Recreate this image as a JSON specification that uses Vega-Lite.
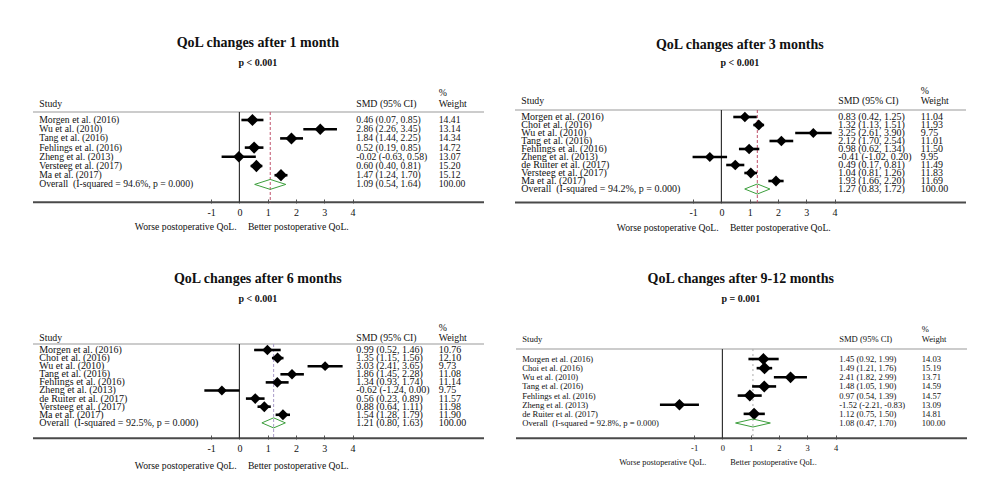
{
  "$schema": "https://vega.github.io/schema/vega-lite/v6.json",
  "background": "white",
  "padding": {"left": 32, "top": 30, "right": 5, "bottom": 5},
  "config": {
    "view": {"stroke": null},
    "text": {"font": "Liberation Serif", "color": "#111111"}
  },
  "datasets": {
    "m1": [
      {"row": 1, "kind": "study", "study": "Morgen et al. (2016)", "est": 0.46, "lo": 0.07, "hi": 0.85, "smd": "0.46 (0.07, 0.85)", "weight": 14.41},
      {"row": 2, "kind": "study", "study": "Wu et al. (2010)", "est": 2.86, "lo": 2.26, "hi": 3.45, "smd": "2.86 (2.26, 3.45)", "weight": 13.14},
      {"row": 3, "kind": "study", "study": "Tang et al. (2016)", "est": 1.84, "lo": 1.44, "hi": 2.25, "smd": "1.84 (1.44, 2.25)", "weight": 14.34},
      {"row": 4, "kind": "study", "study": "Fehlings et al. (2016)", "est": 0.52, "lo": 0.19, "hi": 0.85, "smd": "0.52 (0.19, 0.85)", "weight": 14.72},
      {"row": 5, "kind": "study", "study": "Zheng et al. (2013)", "est": -0.02, "lo": -0.63, "hi": 0.58, "smd": "-0.02 (-0.63, 0.58)", "weight": 13.07},
      {"row": 6, "kind": "study", "study": "Versteeg et al. (2017)", "est": 0.60, "lo": 0.40, "hi": 0.81, "smd": "0.60 (0.40, 0.81)", "weight": 15.20},
      {"row": 7, "kind": "study", "study": "Ma et al. (2017)", "est": 1.47, "lo": 1.24, "hi": 1.70, "smd": "1.47 (1.24, 1.70)", "weight": 15.12},
      {"row": 8, "kind": "overall", "study": "Overall\u00a0 (I-squared = 94.6%, p = 0.000)", "est": 1.09, "lo": 0.54, "hi": 1.64, "smd": "1.09 (0.54, 1.64)", "weight": 100.00}
    ],
    "m3": [
      {"row": 1, "kind": "study", "study": "Morgen et al. (2016)", "est": 0.83, "lo": 0.42, "hi": 1.25, "smd": "0.83 (0.42, 1.25)", "weight": 11.04},
      {"row": 2, "kind": "study", "study": "Choi et al. (2016)", "est": 1.32, "lo": 1.13, "hi": 1.51, "smd": "1.32 (1.13, 1.51)", "weight": 11.93},
      {"row": 3, "kind": "study", "study": "Wu et al. (2010)", "est": 3.25, "lo": 2.61, "hi": 3.90, "smd": "3.25 (2.61, 3.90)", "weight": 9.75},
      {"row": 4, "kind": "study", "study": "Tang et al. (2016)", "est": 2.12, "lo": 1.70, "hi": 2.54, "smd": "2.12 (1.70, 2.54)", "weight": 11.01},
      {"row": 5, "kind": "study", "study": "Fehlings et al. (2016)", "est": 0.98, "lo": 0.62, "hi": 1.34, "smd": "0.98 (0.62, 1.34)", "weight": 11.50},
      {"row": 6, "kind": "study", "study": "Zheng et al. (2013)", "est": -0.41, "lo": -1.02, "hi": 0.20, "smd": "-0.41 (-1.02, 0.20)", "weight": 9.95},
      {"row": 7, "kind": "study", "study": "de Ruiter et al. (2017)", "est": 0.49, "lo": 0.17, "hi": 0.81, "smd": "0.49 (0.17, 0.81)", "weight": 11.49},
      {"row": 8, "kind": "study", "study": "Versteeg et al. (2017)", "est": 1.04, "lo": 0.81, "hi": 1.26, "smd": "1.04 (0.81, 1.26)", "weight": 11.83},
      {"row": 9, "kind": "study", "study": "Ma et al. (2017)", "est": 1.93, "lo": 1.66, "hi": 2.20, "smd": "1.93 (1.66, 2.20)", "weight": 11.69},
      {"row": 10, "kind": "overall", "study": "Overall\u00a0 (I-squared = 94.2%, p = 0.000)", "est": 1.27, "lo": 0.83, "hi": 1.72, "smd": "1.27 (0.83, 1.72)", "weight": 100.00}
    ],
    "m6": [
      {"row": 1, "kind": "study", "study": "Morgen et al. (2016)", "est": 0.99, "lo": 0.52, "hi": 1.46, "smd": "0.99 (0.52, 1.46)", "weight": 10.76},
      {"row": 2, "kind": "study", "study": "Choi et al. (2016)", "est": 1.35, "lo": 1.15, "hi": 1.56, "smd": "1.35 (1.15, 1.56)", "weight": 12.10},
      {"row": 3, "kind": "study", "study": "Wu et al. (2010)", "est": 3.03, "lo": 2.41, "hi": 3.65, "smd": "3.03 (2.41, 3.65)", "weight": 9.73},
      {"row": 4, "kind": "study", "study": "Tang et al. (2016)", "est": 1.86, "lo": 1.45, "hi": 2.28, "smd": "1.86 (1.45, 2.28)", "weight": 11.08},
      {"row": 5, "kind": "study", "study": "Fehlings et al. (2016)", "est": 1.34, "lo": 0.93, "hi": 1.74, "smd": "1.34 (0.93, 1.74)", "weight": 11.14},
      {"row": 6, "kind": "study", "study": "Zheng et al. (2013)", "est": -0.62, "lo": -1.24, "hi": 0.00, "smd": "-0.62 (-1.24, 0.00)", "weight": 9.75},
      {"row": 7, "kind": "study", "study": "de Ruiter et al. (2017)", "est": 0.56, "lo": 0.23, "hi": 0.89, "smd": "0.56 (0.23, 0.89)", "weight": 11.57},
      {"row": 8, "kind": "study", "study": "Versteeg et al. (2017)", "est": 0.88, "lo": 0.64, "hi": 1.11, "smd": "0.88 (0.64, 1.11)", "weight": 11.98},
      {"row": 9, "kind": "study", "study": "Ma et al. (2017)", "est": 1.54, "lo": 1.28, "hi": 1.79, "smd": "1.54 (1.28, 1.79)", "weight": 11.90},
      {"row": 10, "kind": "overall", "study": "Overall\u00a0 (I-squared = 92.5%, p = 0.000)", "est": 1.21, "lo": 0.80, "hi": 1.63, "smd": "1.21 (0.80, 1.63)", "weight": 100.00}
    ],
    "m12": [
      {"row": 1, "kind": "study", "study": "Morgen et al. (2016)", "est": 1.45, "lo": 0.92, "hi": 1.99, "smd": "1.45 (0.92, 1.99)", "weight": 14.03},
      {"row": 2, "kind": "study", "study": "Choi et al. (2016)", "est": 1.49, "lo": 1.21, "hi": 1.76, "smd": "1.49 (1.21, 1.76)", "weight": 15.19},
      {"row": 3, "kind": "study", "study": "Wu et al. (2010)", "est": 2.41, "lo": 1.82, "hi": 2.99, "smd": "2.41 (1.82, 2.99)", "weight": 13.71},
      {"row": 4, "kind": "study", "study": "Tang et al. (2016)", "est": 1.48, "lo": 1.05, "hi": 1.90, "smd": "1.48 (1.05, 1.90)", "weight": 14.59},
      {"row": 5, "kind": "study", "study": "Fehlings et al. (2016)", "est": 0.97, "lo": 0.54, "hi": 1.39, "smd": "0.97 (0.54, 1.39)", "weight": 14.57},
      {"row": 6, "kind": "study", "study": "Zheng et al. (2013)", "est": -1.52, "lo": -2.21, "hi": -0.83, "smd": "-1.52 (-2.21, -0.83)", "weight": 13.09},
      {"row": 7, "kind": "study", "study": "de Ruiter et al. (2017)", "est": 1.12, "lo": 0.75, "hi": 1.50, "smd": "1.12 (0.75, 1.50)", "weight": 14.81},
      {"row": 8, "kind": "overall", "study": "Overall\u00a0 (I-squared = 92.8%, p = 0.000)", "est": 1.08, "lo": 0.47, "hi": 1.70, "smd": "1.08 (0.47, 1.70)", "weight": 100.00}
    ]
  },
  "spacing": 33,
  "vconcat": [
    {
      "spacing": 29,
      "hconcat": [
        {
          "width": 451, "height": 173,
          "data": {"name": "m1"},
          "layer": [
            {"data": {"values": [{}]}, "mark": {"type": "rule", "color": "#bbbbbb", "strokeWidth": 1.6}, "encoding": {"x": {"datum": -7.3}, "x2": {"datum": 8.65}, "y": {"datum": 0.13, "axis": null}}},
            {"data": {"values": [{}]}, "mark": {"type": "rule", "color": "#4a4a4a", "strokeWidth": 2}, "encoding": {"x": {"datum": -7.3}, "x2": {"datum": 8.65}, "y": {"datum": 9.95, "axis": null}}},
            {"data": {"values": [{}]}, "mark": {"type": "rule", "color": "#333333", "strokeWidth": 1.2}, "encoding": {"x": {"datum": 0}, "y": {"datum": 0.13, "axis": null}, "y2": {"datum": 9.95}}},
            {"transform": [{"filter": "datum.kind == 'overall'"}], "mark": {"type": "rule", "color": "#c0506a", "strokeWidth": 1, "strokeDash": [3, 2]}, "encoding": {"x": {"field": "est", "type": "quantitative"}, "y": {"datum": 0.13, "axis": null}, "y2": {"datum": 9.95}}},
            {"transform": [{"filter": "datum.kind == 'study'"}], "mark": {"type": "rule", "color": "black", "strokeWidth": 2.6},
              "encoding": {
                "x": {"field": "lo", "type": "quantitative", "scale": {"domain": [-7.3, 8.65], "nice": false, "zero": false},
                  "axis": {"values": [-1, 0, 1, 2, 3, 4], "title": null, "grid": false, "domain": false, "tickColor": "#555555", "tickWidth": 1, "tickSize": -4, "labelPadding": 8, "labelFontSize": 10, "labelColor": "#111111", "labelFont": "Liberation Serif", "labelExpr": "datum.value < 0 ? '-' + (-datum.value) : datum.label"}},
                "x2": {"field": "hi"},
                "y": {"field": "row", "type": "quantitative", "scale": {"domain": [-8.78, 10.02], "reverse": true, "nice": false, "zero": false}, "axis": null}}},
            {"transform": [{"filter": "datum.kind == 'study'"}], "mark": {"type": "point", "shape": "diamond", "filled": true, "color": "black", "opacity": 1},
              "encoding": {"x": {"field": "est", "type": "quantitative"}, "y": {"field": "row", "type": "quantitative", "axis": null}, "size": {"field": "weight", "type": "quantitative", "scale": {"domain": [0, 16], "range": [0, 160]}, "legend": null}}},
            {"transform": [{"filter": "datum.kind == 'overall'"}], "mark": {"type": "point", "shape": "M-1,0L0,-0.32L1,0L0,0.32Z", "filled": false, "color": "#3c9e3c", "strokeWidth": 1, "size": 967, "opacity": 1},
              "encoding": {"x": {"field": "est", "type": "quantitative"}, "y": {"field": "row", "type": "quantitative", "axis": null}}},
            {"mark": {"type": "text", "align": "left", "baseline": "middle", "fontSize": 9.7}, "encoding": {"x": {"datum": -7.08}, "y": {"field": "row", "type": "quantitative", "axis": null}, "text": {"field": "study"}}},
            {"mark": {"type": "text", "align": "left", "baseline": "middle", "fontSize": 9.7}, "encoding": {"x": {"datum": 4.13}, "y": {"field": "row", "type": "quantitative", "axis": null}, "text": {"field": "smd"}}},
            {"mark": {"type": "text", "align": "left", "baseline": "middle", "fontSize": 9.7}, "encoding": {"x": {"datum": 7.05}, "y": {"field": "row", "type": "quantitative", "axis": null}, "text": {"field": "weight", "type": "quantitative", "format": ".2f"}}},
            {"data": {"values": [{}]}, "mark": {"type": "text", "text": "Study", "align": "left", "baseline": "middle", "fontSize": 9.8}, "encoding": {"x": {"datum": -7.08}, "y": {"datum": -0.74, "axis": null}}},
            {"data": {"values": [{}]}, "mark": {"type": "text", "text": "SMD (95% CI)", "align": "left", "baseline": "middle", "fontSize": 9.8}, "encoding": {"x": {"datum": 4.13}, "y": {"datum": -0.74, "axis": null}}},
            {"data": {"values": [{}]}, "mark": {"type": "text", "text": "%", "align": "left", "baseline": "middle", "fontSize": 9.8}, "encoding": {"x": {"datum": 7.05}, "y": {"datum": -1.93, "axis": null}}},
            {"data": {"values": [{}]}, "mark": {"type": "text", "text": "Weight", "align": "left", "baseline": "middle", "fontSize": 9.8}, "encoding": {"x": {"datum": 7.05}, "y": {"datum": -0.74, "axis": null}}},
            {"data": {"values": [{}]}, "mark": {"type": "text", "text": "QoL changes after 1 month", "align": "center", "baseline": "middle", "fontSize": 14, "fontWeight": "bold"}, "encoding": {"x": {"datum": 0.65}, "y": {"datum": -7.37, "axis": null}}},
            {"data": {"values": [{}]}, "mark": {"type": "text", "text": "p < 0.001", "align": "center", "baseline": "middle", "fontSize": 10, "fontWeight": "bold"}, "encoding": {"x": {"datum": 0.65}, "y": {"datum": -5.2, "axis": null}}},
            {"data": {"values": [{}]}, "mark": {"type": "text", "text": "Worse postoperative QoL.", "align": "right", "baseline": "middle", "fontSize": 9.7}, "encoding": {"x": {"datum": -0.1}, "y": {"datum": 12.63, "axis": null}}},
            {"data": {"values": [{}]}, "mark": {"type": "text", "text": "Better postoperative QoL.", "align": "left", "baseline": "middle", "fontSize": 9.7}, "encoding": {"x": {"datum": 0.3}, "y": {"datum": 12.63, "axis": null}}}
          ]
        },
        {
          "width": 451, "height": 173,
          "data": {"name": "m3"},
          "layer": [
            {"data": {"values": [{}]}, "mark": {"type": "rule", "color": "#bbbbbb", "strokeWidth": 1.6}, "encoding": {"x": {"datum": -7.3}, "x2": {"datum": 8.65}, "y": {"datum": 0.125, "axis": null}}},
            {"data": {"values": [{}]}, "mark": {"type": "rule", "color": "#4a4a4a", "strokeWidth": 2}, "encoding": {"x": {"datum": -7.3}, "x2": {"datum": 8.65}, "y": {"datum": 11.68, "axis": null}}},
            {"data": {"values": [{}]}, "mark": {"type": "rule", "color": "#333333", "strokeWidth": 1.2}, "encoding": {"x": {"datum": 0}, "y": {"datum": 0.125, "axis": null}, "y2": {"datum": 11.68}}},
            {"transform": [{"filter": "datum.kind == 'overall'"}], "mark": {"type": "rule", "color": "#c0506a", "strokeWidth": 1, "strokeDash": [3, 2]}, "encoding": {"x": {"field": "est", "type": "quantitative"}, "y": {"datum": 0.125, "axis": null}, "y2": {"datum": 11.68}}},
            {"transform": [{"filter": "datum.kind == 'study'"}], "mark": {"type": "rule", "color": "black", "strokeWidth": 2.6},
              "encoding": {
                "x": {"field": "lo", "type": "quantitative", "scale": {"domain": [-7.3, 8.65], "nice": false, "zero": false},
                  "axis": {"values": [-1, 0, 1, 2, 3, 4], "title": null, "grid": false, "domain": false, "tickColor": "#555555", "tickWidth": 1, "tickSize": -4, "labelPadding": 8, "labelFontSize": 10, "labelColor": "#111111", "labelFont": "Liberation Serif", "labelExpr": "datum.value < 0 ? '-' + (-datum.value) : datum.label"}},
                "x2": {"field": "hi"},
                "y": {"field": "row", "type": "quantitative", "scale": {"domain": [-9.875, 11.75], "reverse": true, "nice": false, "zero": false}, "axis": null}}},
            {"transform": [{"filter": "datum.kind == 'study'"}], "mark": {"type": "point", "shape": "diamond", "filled": true, "color": "black", "opacity": 1},
              "encoding": {"x": {"field": "est", "type": "quantitative"}, "y": {"field": "row", "type": "quantitative", "axis": null}, "size": {"field": "weight", "type": "quantitative", "scale": {"domain": [0, 16], "range": [0, 160]}, "legend": null}}},
            {"transform": [{"filter": "datum.kind == 'overall'"}], "mark": {"type": "point", "shape": "M-1,0L0,-0.4L1,0L0,0.4Z", "filled": false, "color": "#3c9e3c", "strokeWidth": 1, "size": 635, "opacity": 1},
              "encoding": {"x": {"field": "est", "type": "quantitative"}, "y": {"field": "row", "type": "quantitative", "axis": null}}},
            {"mark": {"type": "text", "align": "left", "baseline": "middle", "fontSize": 10}, "encoding": {"x": {"datum": -7.08}, "y": {"field": "row", "type": "quantitative", "axis": null}, "text": {"field": "study"}}},
            {"mark": {"type": "text", "align": "left", "baseline": "middle", "fontSize": 10}, "encoding": {"x": {"datum": 4.13}, "y": {"field": "row", "type": "quantitative", "axis": null}, "text": {"field": "smd"}}},
            {"mark": {"type": "text", "align": "left", "baseline": "middle", "fontSize": 10}, "encoding": {"x": {"datum": 7.05}, "y": {"field": "row", "type": "quantitative", "axis": null}, "text": {"field": "weight", "type": "quantitative", "format": ".2f"}}},
            {"data": {"values": [{}]}, "mark": {"type": "text", "text": "Study", "align": "left", "baseline": "middle", "fontSize": 9.8}, "encoding": {"x": {"datum": -7.08}, "y": {"datum": -1.0, "axis": null}}},
            {"data": {"values": [{}]}, "mark": {"type": "text", "text": "SMD (95% CI)", "align": "left", "baseline": "middle", "fontSize": 9.8}, "encoding": {"x": {"datum": 4.13}, "y": {"datum": -1.0, "axis": null}}},
            {"data": {"values": [{}]}, "mark": {"type": "text", "text": "%", "align": "left", "baseline": "middle", "fontSize": 9.8}, "encoding": {"x": {"datum": 7.05}, "y": {"datum": -2.25, "axis": null}}},
            {"data": {"values": [{}]}, "mark": {"type": "text", "text": "Weight", "align": "left", "baseline": "middle", "fontSize": 9.8}, "encoding": {"x": {"datum": 7.05}, "y": {"datum": -1.0, "axis": null}}},
            {"data": {"values": [{}]}, "mark": {"type": "text", "text": "QoL changes after 3 months", "align": "center", "baseline": "middle", "fontSize": 14, "fontWeight": "bold"}, "encoding": {"x": {"datum": 0.65}, "y": {"datum": -8.0, "axis": null}}},
            {"data": {"values": [{}]}, "mark": {"type": "text", "text": "p < 0.001", "align": "center", "baseline": "middle", "fontSize": 10, "fontWeight": "bold"}, "encoding": {"x": {"datum": 0.65}, "y": {"datum": -5.75, "axis": null}}},
            {"data": {"values": [{}]}, "mark": {"type": "text", "text": "Worse postoperative QoL.", "align": "right", "baseline": "middle", "fontSize": 9.7}, "encoding": {"x": {"datum": -0.1}, "y": {"datum": 14.875, "axis": null}}},
            {"data": {"values": [{}]}, "mark": {"type": "text", "text": "Better postoperative QoL.", "align": "left", "baseline": "middle", "fontSize": 9.7}, "encoding": {"x": {"datum": 0.3}, "y": {"datum": 14.875, "axis": null}}}
          ]
        }
      ]
    },
    {
      "spacing": 30,
      "hconcat": [
        {
          "width": 451, "height": 173,
          "data": {"name": "m6"},
          "layer": [
            {"data": {"values": [{}]}, "mark": {"type": "rule", "color": "#bbbbbb", "strokeWidth": 1.6}, "encoding": {"x": {"datum": -7.3}, "x2": {"datum": 8.65}, "y": {"datum": 0.26, "axis": null}}},
            {"data": {"values": [{}]}, "mark": {"type": "rule", "color": "#4a4a4a", "strokeWidth": 2}, "encoding": {"x": {"datum": -7.3}, "x2": {"datum": 8.65}, "y": {"datum": 11.9, "axis": null}}},
            {"data": {"values": [{}]}, "mark": {"type": "rule", "color": "#333333", "strokeWidth": 1.2}, "encoding": {"x": {"datum": 0}, "y": {"datum": 0.26, "axis": null}, "y2": {"datum": 11.9}}},
            {"transform": [{"filter": "datum.kind == 'overall'"}], "mark": {"type": "rule", "color": "#a99bc9", "strokeWidth": 1, "strokeDash": [3, 2]}, "encoding": {"x": {"field": "est", "type": "quantitative"}, "y": {"datum": 0.26, "axis": null}, "y2": {"datum": 11.9}}},
            {"transform": [{"filter": "datum.kind == 'study'"}], "mark": {"type": "rule", "color": "black", "strokeWidth": 2.6},
              "encoding": {
                "x": {"field": "lo", "type": "quantitative", "scale": {"domain": [-7.3, 8.65], "nice": false, "zero": false},
                  "axis": {"values": [-1, 0, 1, 2, 3, 4], "title": null, "grid": false, "domain": false, "tickColor": "#555555", "tickWidth": 1, "tickSize": -4, "labelPadding": 8, "labelFontSize": 10, "labelColor": "#111111", "labelFont": "Liberation Serif", "labelExpr": "datum.value < 0 ? '-' + (-datum.value) : datum.label"}},
                "x2": {"field": "hi"},
                "y": {"field": "row", "type": "quantitative", "scale": {"domain": [-9.37, 11.99], "reverse": true, "nice": false, "zero": false}, "axis": null}}},
            {"transform": [{"filter": "datum.kind == 'study'"}], "mark": {"type": "point", "shape": "diamond", "filled": true, "color": "black", "opacity": 1},
              "encoding": {"x": {"field": "est", "type": "quantitative"}, "y": {"field": "row", "type": "quantitative", "axis": null}, "size": {"field": "weight", "type": "quantitative", "scale": {"domain": [0, 16], "range": [0, 160]}, "legend": null}}},
            {"transform": [{"filter": "datum.kind == 'overall'"}], "mark": {"type": "point", "shape": "M-1,0L0,-0.43L1,0L0,0.43Z", "filled": false, "color": "#3c9e3c", "strokeWidth": 1, "size": 552, "opacity": 1},
              "encoding": {"x": {"field": "est", "type": "quantitative"}, "y": {"field": "row", "type": "quantitative", "axis": null}}},
            {"mark": {"type": "text", "align": "left", "baseline": "middle", "fontSize": 10}, "encoding": {"x": {"datum": -7.08}, "y": {"field": "row", "type": "quantitative", "axis": null}, "text": {"field": "study"}}},
            {"mark": {"type": "text", "align": "left", "baseline": "middle", "fontSize": 10}, "encoding": {"x": {"datum": 4.13}, "y": {"field": "row", "type": "quantitative", "axis": null}, "text": {"field": "smd"}}},
            {"mark": {"type": "text", "align": "left", "baseline": "middle", "fontSize": 10}, "encoding": {"x": {"datum": 7.05}, "y": {"field": "row", "type": "quantitative", "axis": null}, "text": {"field": "weight", "type": "quantitative", "format": ".2f"}}},
            {"data": {"values": [{}]}, "mark": {"type": "text", "text": "Study", "align": "left", "baseline": "middle", "fontSize": 9.8}, "encoding": {"x": {"datum": -7.08}, "y": {"datum": -0.48, "axis": null}}},
            {"data": {"values": [{}]}, "mark": {"type": "text", "text": "SMD (95% CI)", "align": "left", "baseline": "middle", "fontSize": 9.8}, "encoding": {"x": {"datum": 4.13}, "y": {"datum": -0.48, "axis": null}}},
            {"data": {"values": [{}]}, "mark": {"type": "text", "text": "%", "align": "left", "baseline": "middle", "fontSize": 9.8}, "encoding": {"x": {"datum": 7.05}, "y": {"datum": -1.72, "axis": null}}},
            {"data": {"values": [{}]}, "mark": {"type": "text", "text": "Weight", "align": "left", "baseline": "middle", "fontSize": 9.8}, "encoding": {"x": {"datum": 7.05}, "y": {"datum": -0.48, "axis": null}}},
            {"data": {"values": [{}]}, "mark": {"type": "text", "text": "QoL changes after 6 months", "align": "center", "baseline": "middle", "fontSize": 14, "fontWeight": "bold"}, "encoding": {"x": {"datum": 0.65}, "y": {"datum": -7.77, "axis": null}}},
            {"data": {"values": [{}]}, "mark": {"type": "text", "text": "p < 0.001", "align": "center", "baseline": "middle", "fontSize": 10, "fontWeight": "bold"}, "encoding": {"x": {"datum": 0.65}, "y": {"datum": -5.3, "axis": null}}},
            {"data": {"values": [{}]}, "mark": {"type": "text", "text": "Worse postoperative QoL.", "align": "right", "baseline": "middle", "fontSize": 9.7}, "encoding": {"x": {"datum": -0.1}, "y": {"datum": 15.32, "axis": null}}},
            {"data": {"values": [{}]}, "mark": {"type": "text", "text": "Better postoperative QoL.", "align": "left", "baseline": "middle", "fontSize": 9.7}, "encoding": {"x": {"datum": 0.3}, "y": {"datum": 15.32, "axis": null}}}
          ]
        },
        {
          "width": 451, "height": 173,
          "data": {"name": "m12"},
          "layer": [
            {"data": {"values": [{}]}, "mark": {"type": "rule", "color": "#bbbbbb", "strokeWidth": 1.6}, "encoding": {"x": {"datum": -7.3}, "x2": {"datum": 8.65}, "y": {"datum": -0.09, "axis": null}}},
            {"data": {"values": [{}]}, "mark": {"type": "rule", "color": "#4a4a4a", "strokeWidth": 2}, "encoding": {"x": {"datum": -7.3}, "x2": {"datum": 8.65}, "y": {"datum": 9.67, "axis": null}}},
            {"data": {"values": [{}]}, "mark": {"type": "rule", "color": "#333333", "strokeWidth": 1.2}, "encoding": {"x": {"datum": 0}, "y": {"datum": -0.09, "axis": null}, "y2": {"datum": 9.67}}},
            {"transform": [{"filter": "datum.kind == 'overall'"}], "mark": {"type": "rule", "color": "#aaaaaa", "strokeWidth": 1, "strokeDash": [2, 3]}, "encoding": {"x": {"field": "est", "type": "quantitative"}, "y": {"datum": -0.09, "axis": null}, "y2": {"datum": 9.67}}},
            {"transform": [{"filter": "datum.kind == 'study'"}], "mark": {"type": "rule", "color": "black", "strokeWidth": 2.6},
              "encoding": {
                "x": {"field": "lo", "type": "quantitative", "scale": {"domain": [-7.3, 8.65], "nice": false, "zero": false},
                  "axis": {"values": [-1, 0, 1, 2, 3, 4], "title": null, "grid": false, "domain": false, "tickColor": "#555555", "tickWidth": 1, "tickSize": -4, "labelPadding": 8, "labelFontSize": 8.5, "labelColor": "#111111", "labelFont": "Liberation Serif", "labelExpr": "datum.value < 0 ? '-' + (-datum.value) : datum.label"}},
                "x2": {"field": "hi"},
                "y": {"field": "row", "type": "quantitative", "scale": {"domain": [-9.175, 9.75], "reverse": true, "nice": false, "zero": false}, "axis": null}}},
            {"transform": [{"filter": "datum.kind == 'study'"}], "mark": {"type": "point", "shape": "diamond", "filled": true, "color": "black", "opacity": 1},
              "encoding": {"x": {"field": "est", "type": "quantitative"}, "y": {"field": "row", "type": "quantitative", "axis": null}, "size": {"field": "weight", "type": "quantitative", "scale": {"domain": [0, 16], "range": [0, 160]}, "legend": null}}},
            {"transform": [{"filter": "datum.kind == 'overall'"}], "mark": {"type": "point", "shape": "M-1,0L0,-0.23L1,0L0,0.23Z", "filled": false, "color": "#3c9e3c", "strokeWidth": 1, "size": 1211, "opacity": 1},
              "encoding": {"x": {"field": "est", "type": "quantitative"}, "y": {"field": "row", "type": "quantitative", "axis": null}}},
            {"mark": {"type": "text", "align": "left", "baseline": "middle", "fontSize": 8.6}, "encoding": {"x": {"datum": -7.08}, "y": {"field": "row", "type": "quantitative", "axis": null}, "text": {"field": "study"}}},
            {"mark": {"type": "text", "align": "left", "baseline": "middle", "fontSize": 8.6}, "encoding": {"x": {"datum": 4.13}, "y": {"field": "row", "type": "quantitative", "axis": null}, "text": {"field": "smd"}}},
            {"mark": {"type": "text", "align": "left", "baseline": "middle", "fontSize": 8.6}, "encoding": {"x": {"datum": 7.05}, "y": {"field": "row", "type": "quantitative", "axis": null}, "text": {"field": "weight", "type": "quantitative", "format": ".2f"}}},
            {"data": {"values": [{}]}, "mark": {"type": "text", "text": "Study", "align": "left", "baseline": "middle", "fontSize": 8.6}, "encoding": {"x": {"datum": -7.08}, "y": {"datum": -1.19, "axis": null}}},
            {"data": {"values": [{}]}, "mark": {"type": "text", "text": "SMD (95% CI)", "align": "left", "baseline": "middle", "fontSize": 8.6}, "encoding": {"x": {"datum": 4.13}, "y": {"datum": -1.19, "axis": null}}},
            {"data": {"values": [{}]}, "mark": {"type": "text", "text": "%", "align": "left", "baseline": "middle", "fontSize": 8.6}, "encoding": {"x": {"datum": 7.05}, "y": {"datum": -2.28, "axis": null}}},
            {"data": {"values": [{}]}, "mark": {"type": "text", "text": "Weight", "align": "left", "baseline": "middle", "fontSize": 8.6}, "encoding": {"x": {"datum": 7.05}, "y": {"datum": -1.19, "axis": null}}},
            {"data": {"values": [{}]}, "mark": {"type": "text", "text": "QoL changes after 9-12 months", "align": "center", "baseline": "middle", "fontSize": 14, "fontWeight": "bold"}, "encoding": {"x": {"datum": 0.65}, "y": {"datum": -7.75, "axis": null}}},
            {"data": {"values": [{}]}, "mark": {"type": "text", "text": "p = 0.001", "align": "center", "baseline": "middle", "fontSize": 10, "fontWeight": "bold"}, "encoding": {"x": {"datum": 0.65}, "y": {"datum": -5.56, "axis": null}}},
            {"data": {"values": [{}]}, "mark": {"type": "text", "text": "Worse postoperative QoL.", "align": "right", "baseline": "middle", "fontSize": 8.3}, "encoding": {"x": {"datum": -0.57}, "y": {"datum": 12.38, "axis": null}}},
            {"data": {"values": [{}]}, "mark": {"type": "text", "text": "Better postoperative QoL.", "align": "left", "baseline": "middle", "fontSize": 8.3}, "encoding": {"x": {"datum": 0.28}, "y": {"datum": 12.38, "axis": null}}}
          ]
        }
      ]
    }
  ]
}
